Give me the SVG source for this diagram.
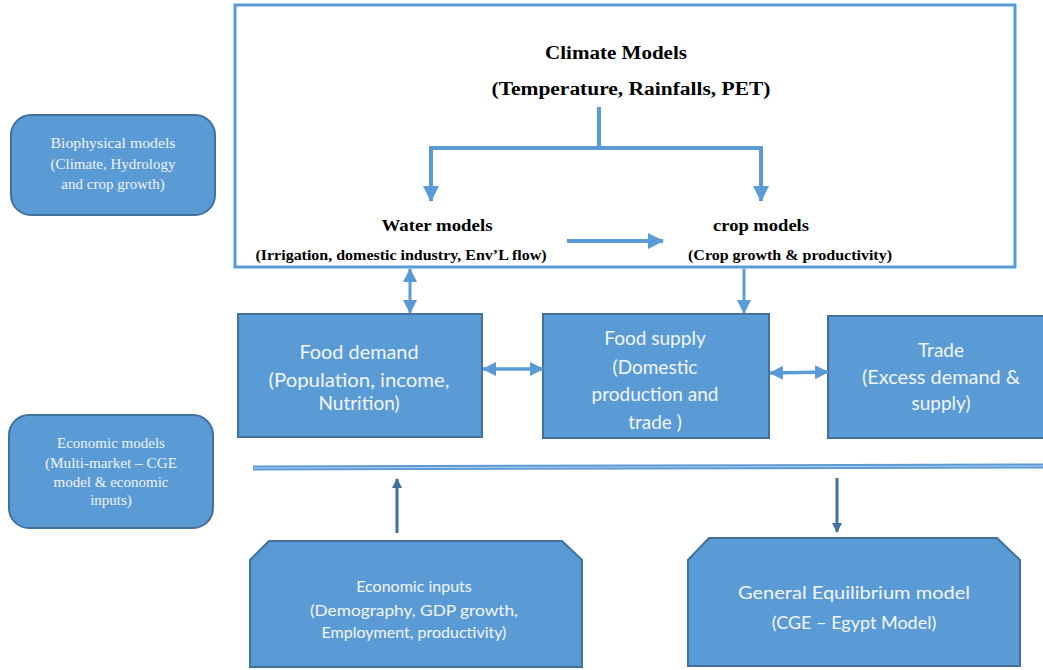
<svg xmlns="http://www.w3.org/2000/svg" width="1043" height="670" viewBox="0 0 1043 670">
<defs>
<style>
.box{fill:#5b9bd5;stroke:#41719c;stroke-width:2}
.rbox{fill:#5b9bd5;stroke:#41719c;stroke-width:2}
.side{font-family:"Liberation Serif",serif;font-size:15px;fill:#eef3fa;text-anchor:middle}
.tb{font-family:"Liberation Serif",serif;font-weight:bold;fill:#000;text-anchor:middle}
.cal{font-family:Lato,"Open Sans",sans-serif;fill:#f2f6fb;text-anchor:middle}
.ln{stroke:#5b9bd5;fill:none}
</style>
<marker id="ah" viewBox="0 0 16 16" refX="15" refY="8" markerWidth="16" markerHeight="16" markerUnits="userSpaceOnUse" orient="auto-start-reverse">
<path d="M0,0 L16,8 L0,16 z" fill="#5b9bd5"/>
</marker>
<marker id="ahm" viewBox="0 0 14 14" refX="13" refY="7" markerWidth="14" markerHeight="14" markerUnits="userSpaceOnUse" orient="auto-start-reverse">
<path d="M0,0 L14,7 L0,14 z" fill="#5b9bd5"/>
</marker>
<marker id="ahs" viewBox="0 0 10 10" refX="9" refY="5" markerWidth="10" markerHeight="10" markerUnits="userSpaceOnUse" orient="auto-start-reverse">
<path d="M0,0 L10,5 L0,10 z" fill="#41719c"/>
</marker>
</defs>

<g id="biophysical-frame">
<rect x="235" y="5" width="780" height="262" fill="none" stroke="#5b9bd5" stroke-width="3"/>
</g>

<g id="biophysical-models">
<rect class="rbox" x="11" y="115" width="204" height="100" rx="20"/>
<text class="side" x="113" y="148" textLength="125" lengthAdjust="spacingAndGlyphs">Biophysical models</text>
<text class="side" x="113" y="169">(Climate, Hydrology</text>
<text class="side" x="113" y="189">and crop growth)</text>
</g>

<g id="economic-models">
<rect class="rbox" x="9" y="415" width="204" height="113" rx="20"/>
<text class="side" x="111" y="448">Economic models</text>
<text class="side" x="111" y="468" textLength="132" lengthAdjust="spacingAndGlyphs">(Multi-market – CGE</text>
<text class="side" x="111" y="487">model &amp; economic</text>
<text class="side" x="111" y="505">inputs)</text>
</g>

<g id="climate-models">
<text class="tb" x="616" y="59" font-size="18" textLength="142" lengthAdjust="spacingAndGlyphs">Climate Models</text>
<text class="tb" x="631" y="95" font-size="18" textLength="279" lengthAdjust="spacingAndGlyphs">(Temperature, Rainfalls, PET)</text>
</g>

<g id="water-models">
<text class="tb" x="437" y="231" font-size="17" textLength="111" lengthAdjust="spacingAndGlyphs">Water models</text>
<text class="tb" x="401" y="260" font-size="14" textLength="291" lengthAdjust="spacingAndGlyphs">(Irrigation, domestic industry, Env’L flow)</text>
</g>

<g id="crop-models">
<text class="tb" x="761" y="231" font-size="17" textLength="96" lengthAdjust="spacingAndGlyphs">crop models</text>
<text class="tb" x="790" y="260" font-size="14" textLength="204" lengthAdjust="spacingAndGlyphs">(Crop growth &amp; productivity)</text>
</g>

<g id="food-demand">
<rect class="box" x="238" y="314" width="244" height="123"/>
<text class="cal" x="359" y="359" font-size="19" textLength="119" lengthAdjust="spacingAndGlyphs">Food demand</text>
<text class="cal" x="359" y="387" font-size="19" textLength="181" lengthAdjust="spacingAndGlyphs">(Population, income,</text>
<text class="cal" x="359" y="410" font-size="19">Nutrition)</text>
</g>

<g id="food-supply">
<rect class="box" x="543" y="314" width="226" height="124"/>
<text class="cal" x="655" y="345" font-size="19">Food supply</text>
<text class="cal" x="655" y="374" font-size="19">(Domestic</text>
<text class="cal" x="655" y="401" font-size="19">production and</text>
<text class="cal" x="655" y="429" font-size="19">trade )</text>
</g>

<g id="trade">
<rect class="box" x="828" y="316" width="220" height="122"/>
<text class="cal" x="941" y="357" font-size="19">Trade</text>
<text class="cal" x="941" y="384" font-size="19" textLength="158" lengthAdjust="spacingAndGlyphs">(Excess demand &amp;</text>
<text class="cal" x="941" y="410" font-size="19">supply)</text>
</g>

<g id="economic-inputs">
<path class="box" d="M269,541 L562,541 L582,560 L582,667 L250,667 L250,560 Z"/>
<text class="cal" x="414" y="592" font-size="16">Economic inputs</text>
<text class="cal" x="414" y="616" font-size="16" textLength="208" lengthAdjust="spacingAndGlyphs">(Demography, GDP growth,</text>
<text class="cal" x="414" y="638" font-size="16">Employment, productivity)</text>
</g>

<g id="general-equilibrium">
<path class="box" d="M709,538 L997,538 L1020,560 L1020,666 L688,666 L688,560 Z"/>
<text class="cal" x="854" y="599" font-size="18" textLength="232" lengthAdjust="spacingAndGlyphs">General Equilibrium model</text>
<text class="cal" x="854" y="629" font-size="18">(CGE – Egypt Model)</text>
</g>

<g id="connectors">
<line class="ln" x1="599" y1="107" x2="599" y2="148" stroke-width="4"/>
<polyline class="ln" points="431,201 431,148 761,148 761,201" stroke-width="4" marker-start="url(#ah)" marker-end="url(#ah)"/>
<line class="ln" x1="567" y1="241" x2="663" y2="241" stroke-width="4" marker-end="url(#ah)"/>
<line class="ln" x1="410" y1="269" x2="410" y2="313" stroke-width="3" marker-start="url(#ahm)" marker-end="url(#ahm)"/>
<line class="ln" x1="744" y1="269" x2="744" y2="313" stroke-width="3" marker-end="url(#ahm)"/>
<line class="ln" x1="483" y1="369" x2="543" y2="369" stroke-width="3.5" marker-start="url(#ahm)" marker-end="url(#ahm)"/>
<line class="ln" x1="770" y1="373" x2="828" y2="372" stroke-width="3.5" marker-start="url(#ahm)" marker-end="url(#ahm)"/>
<line x1="253" y1="468" x2="1043" y2="466" stroke="#5b9bd5" stroke-width="5"/>
<line x1="253" y1="468" x2="1043" y2="466" stroke="#b4cfea" stroke-width="1"/>
<line x1="397" y1="533" x2="397" y2="479" stroke="#41719c" stroke-width="3" marker-end="url(#ahs)"/>
<line x1="837" y1="478" x2="837" y2="532" stroke="#41719c" stroke-width="3" marker-end="url(#ahs)"/>
</g>
</svg>
